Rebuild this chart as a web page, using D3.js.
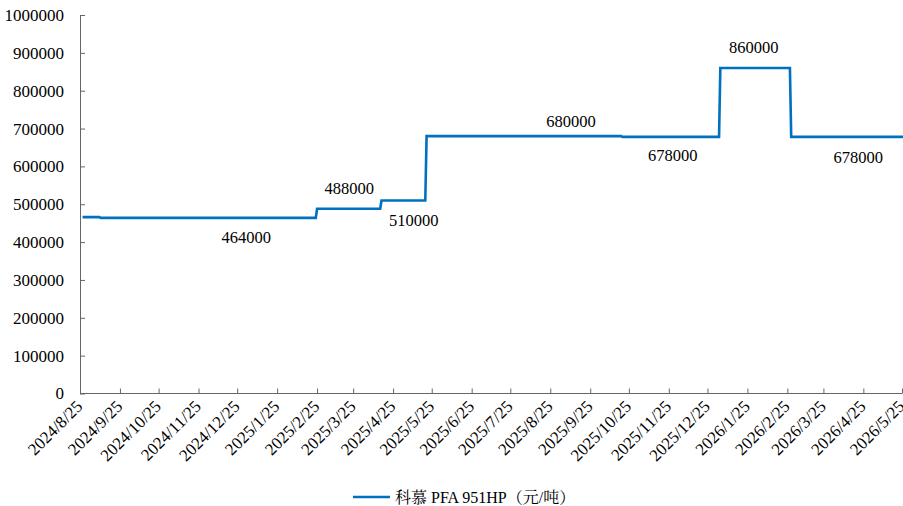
<!DOCTYPE html>
<html><head><meta charset="utf-8">
<script src="https://cdn.jsdelivr.net/npm/d3@7"></script>
<style>body{margin:0;background:#fff;} svg{display:block;}</style>
</head><body><svg id="c" width="903" height="506"></svg>
<script>
// step change dates and prices (元/吨)
const dates = ["2024-08-27","2024-09-09","2024-09-10","2025-02-24","2025-02-25","2025-04-15","2025-04-16","2025-05-20","2025-05-21","2025-10-19","2025-10-20","2026-01-03","2026-01-04","2026-02-27","2026-02-28","2026-05-26"];
const prices = [466000,466000,464000,464000,488000,488000,510000,510000,680000,680000,678000,678000,860000,860000,678000,678000];
const tickLabels = ["2024/8/25","2024/9/25","2024/10/25","2024/11/25","2024/12/25","2025/1/25","2025/2/25","2025/3/25","2025/4/25","2025/5/25","2025/6/25","2025/7/25","2025/8/25","2025/9/25","2025/10/25","2025/11/25","2025/12/25","2026/1/25","2026/2/25","2026/3/25","2026/4/25","2026/5/25"];
const yTicks = [0,100000,200000,300000,400000,500000,600000,700000,800000,900000,1000000];
const annDates = ["2025-01-01","2025-03-22","2025-05-11","2025-09-10","2025-11-28","2026-01-30","2026-04-21"];
const annValues = [464000,488000,510000,680000,678000,860000,678000];
const annOffsets = [25.5,-15,26,-9.5,24.5,-14.5,26.5]; // label baseline offset from the line
const seriesName = "科慕 PFA 951HP（元/吨）";

const parse = d3.timeParse("%Y-%m-%d");
const parseTick = d3.timeParse("%Y/%m/%d");
const data = dates.map((d,i)=>({date:parse(d), v:prices[i]}));
const svg = d3.select("#c");
const x = d3.scaleTime().domain([parseTick("2024/8/25"), parseTick("2026/5/25")]).range([80, 902]);
const y = d3.scaleLinear().domain([0,1000000]).range([393.5, 15]);
const serif = "'Liberation Serif','Times New Roman',serif";
const axisColor = "#666";

// y axis
const yAxis = svg.append("g").attr("transform","translate(80,0)")
  .call(d3.axisRight(y).tickValues(yTicks).tickSize(5).tickFormat(d3.format("d")));
yAxis.select(".domain").attr("stroke",axisColor).attr("d","M0.5,15V393.5");
yAxis.selectAll(".tick line").attr("stroke",axisColor);
yAxis.selectAll(".tick text").attr("x",-16).attr("text-anchor","end")
  .attr("font-family",serif).attr("font-size","17px").attr("fill","#000");

// x axis
const xAxis = svg.append("g").attr("transform","translate(0,393.5)")
  .call(d3.axisTop(x).tickValues(tickLabels.map(parseTick)).tickSize(5).tickFormat((d,i)=>tickLabels[i]));
xAxis.select(".domain").attr("stroke",axisColor).attr("d","M80,0H902");
xAxis.selectAll(".tick line").attr("stroke",axisColor);
xAxis.selectAll(".tick text").attr("y",0).attr("dy",0)
  .attr("text-anchor","end")
  .attr("transform","translate(3,14) rotate(-45)")
  .attr("font-family",serif).attr("font-size","17px").attr("fill","#000");

// line
svg.append("path").datum(data)
  .attr("fill","none").attr("stroke","#0070C0").attr("stroke-width",2.6)
  .attr("d", d3.line().x(d=>x(d.date)).y(d=>y(d.v)));

// annotations
svg.append("g").selectAll("text").data(annValues).join("text")
  .attr("x",(d,i)=>x(parse(annDates[i])))
  .attr("y",(d,i)=>y(d) + annOffsets[i])
  .attr("text-anchor","middle")
  .attr("font-family",serif).attr("font-size","16.5px").attr("fill","#000")
  .text(d=>d);

// legend
const lg = svg.append("g").attr("transform","translate(353,497)");
lg.append("line").attr("x1",0).attr("x2",37).attr("y1",0).attr("y2",0).attr("stroke","#0070C0").attr("stroke-width",2.6);
lg.append("text").attr("x",42).attr("y",5.5).attr("font-family","'Liberation Serif','Noto Serif CJK SC','Noto Sans CJK SC',serif")
  .attr("font-size","16px").attr("fill","#000").text(seriesName);
</script></body></html>
